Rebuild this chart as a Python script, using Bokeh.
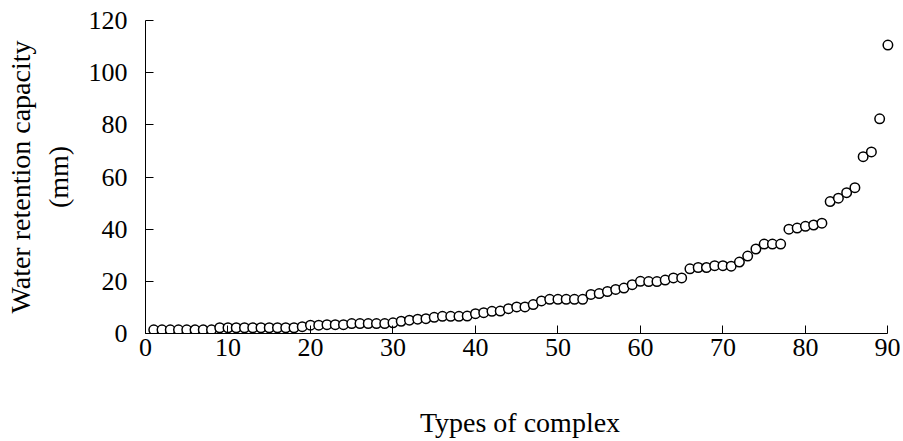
from bokeh.plotting import figure
from bokeh.embed import file_html
from bokeh.resources import INLINE
from bokeh.models import FixedTicker

complex_type = list(range(1, 91))
water_retention = [
    1.4, 1.4, 1.4, 1.4, 1.4, 1.4, 1.4, 1.4,
    2.2, 2.2, 2.2, 2.2, 2.2, 2.2, 2.2, 2.2, 2.2, 2.2,
    2.6, 3.2, 3.2, 3.4, 3.4, 3.4, 3.8, 3.8, 3.8, 3.8, 3.8, 4.1,
    4.7, 5.1, 5.5, 5.7, 6.2, 6.6, 6.6, 6.6, 6.7, 7.6,
    8.0, 8.5, 8.6, 9.5, 10.2, 10.2, 11.1, 12.5, 13.1, 13.1,
    13.1, 13.1, 13.1, 15.0, 15.3, 16.1, 16.9, 17.4, 18.7, 20.0,
    19.9, 19.9, 20.5, 21.3, 21.3, 24.8, 25.3, 25.3, 26.0, 26.0,
    25.8, 27.4, 29.7, 32.4, 34.3, 34.3, 34.3, 40.0, 40.4, 41.1,
    41.6, 42.3, 50.6, 51.9, 54.0, 55.9, 67.8, 69.6, 82.3, 110.6,
]
x_ticks = [0, 10, 20, 30, 40, 50, 60, 70, 80, 90]
y_ticks = [0, 20, 40, 60, 80, 100, 120]

FONT = "Liberation Serif"

p = figure(width=900, height=440, output_backend="svg", toolbar_location=None,
           x_range=(0, 90.8), y_range=(0, 120),
           min_border_left=145, min_border_right=6, min_border_top=20,
           min_border_bottom=105)
p.outline_line_color = None
p.xgrid.grid_line_color = None
p.ygrid.grid_line_color = None

p.scatter(complex_type, water_retention, marker="circle", size=9.5,
          fill_color="white", line_color="black", line_width=1.5)

for ax, ticks in ((p.xaxis[0], x_ticks), (p.yaxis[0], y_ticks)):
    ax.ticker = FixedTicker(ticks=ticks)
    ax.major_tick_in = 8
    ax.major_tick_out = 0
    ax.minor_tick_line_color = None
    ax.axis_line_color = "black"
    ax.major_tick_line_color = "black"
    ax.major_label_text_font = FONT
    ax.major_label_text_font_size = "26px"
    ax.major_label_text_color = "black"
    ax.axis_label_text_font = FONT
    ax.axis_label_text_font_size = "28px"
    ax.axis_label_text_font_style = "normal"
    ax.axis_label_text_color = "black"

p.xaxis.bounds = (0, 90)
p.xaxis.axis_label = "Types of complex"
p.xaxis.major_label_standoff = 5
p.xaxis.axis_label_standoff = 48
p.yaxis.axis_label = "Water retention capacity\n(mm)"
p.yaxis.major_label_standoff = 18
p.yaxis.axis_label_standoff = 12

open("out.html", "w").write(file_html(p, INLINE))
